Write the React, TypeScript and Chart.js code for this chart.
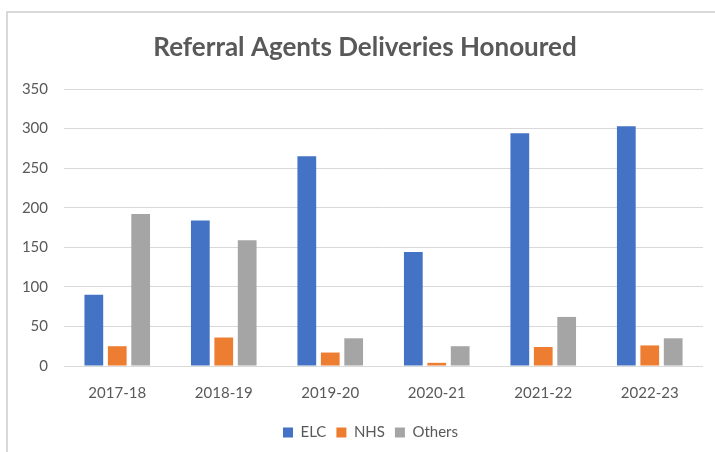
import React, { useEffect, useRef } from "react";
import { Chart, registerables } from "chart.js";

Chart.register(...registerables);

const categories = ["2017-18", "2018-19", "2019-20", "2020-21", "2021-22", "2022-23"];
const seriesNames = ["ELC", "NHS", "Others"];
const elcValues = [90, 184, 265, 144, 294, 303];
const nhsValues = [25, 36, 17, 4, 24, 26];
const othersValues = [192, 159, 35, 25, 62, 35];
const yMin = 0;
const yMax = 350;
const yStep = 50;
const chartTitle = "Referral Agents Deliveries Honoured";

const W = 715;
const H = 452;
const TEXT = "#595959";
const GRID = "#D9D9D9";
const FONT = "Lato, 'Open Sans', sans-serif";

const framePlugin = {
  id: "frame",
  beforeDraw(chart: any) {
    const ctx = chart.ctx;
    ctx.save();
    ctx.fillStyle = "#ffffff";
    ctx.fillRect(0, 0, chart.width, chart.height);
    ctx.strokeStyle = GRID;
    ctx.lineWidth = 2;
    ctx.beginPath();
    ctx.moveTo(7, chart.height);
    ctx.lineTo(7, 12);
    ctx.lineTo(chart.width, 12);
    ctx.stroke();
    ctx.restore();
  },
};

// Excel centres the title and legend on the whole chart frame, not on the padded box
const centreShiftPlugin = {
  id: "centreShift",
  afterLayout(chart: any) {
    const tb = chart.titleBlock;
    if (tb) {
      tb.left += 13.5;
      tb.right += 13.5;
    }
    const lg = chart.legend;
    if (lg) {
      lg.left += 19;
      lg.right += 19;
    }
  },
};

export default function App() {
  const ref = useRef<HTMLCanvasElement>(null);

  useEffect(() => {
    document.body.style.margin = "0";
    const canvas = ref.current;
    if (!canvas) return;
    const chart = new Chart(canvas, {
      type: "bar",
      data: {
        labels: categories,
        datasets: [
          { label: seriesNames[0], data: elcValues, backgroundColor: "#4472C4", borderWidth: 0 },
          { label: seriesNames[1], data: nhsValues, backgroundColor: "#ED7D31", borderWidth: 0 },
          { label: seriesNames[2], data: othersValues, backgroundColor: "#A5A5A5", borderWidth: 0 },
        ],
      },
      options: {
        responsive: false,
        animation: false,
        events: [],
        layout: { padding: { left: 0, right: 12, top: 0, bottom: 2 } },
        datasets: {
          bar: { categoryPercentage: 0.66, barPercentage: 0.8 },
        },
        scales: {
          x: {
            grid: { display: false, drawTicks: false },
            border: { display: false },
            ticks: {
              color: TEXT,
              font: { family: FONT, size: 15 },
              padding: 18,
              maxRotation: 0,
            },
            afterFit: (scale: any) => {
              scale.height = 49;
            },
          },
          y: {
            min: yMin,
            max: yMax,
            grid: { color: GRID, lineWidth: 1, drawTicks: false },
            border: { display: false },
            ticks: {
              stepSize: yStep,
              color: TEXT,
              font: { family: FONT, size: 15 },
              padding: 16,
            },
            afterFit: (scale: any) => {
              scale.width = 64;
            },
          },
        },
        plugins: {
          title: {
            display: true,
            text: chartTitle,
            color: TEXT,
            font: { family: FONT, size: 26, weight: "bold" },
            padding: { top: 32.4, bottom: 25.4 },
          },
          legend: {
            display: true,
            position: "bottom",
            labels: {
              boxWidth: 10,
              boxHeight: 10,
              padding: 10,
              color: TEXT,
              font: { family: FONT, size: 15 },
            },
          },
          tooltip: { enabled: false },
        },
      },
      plugins: [framePlugin, centreShiftPlugin],
    });
    return () => chart.destroy();
  }, []);

  return (
    <div style={{ width: W, height: H }}>
      <canvas ref={ref} width={W} height={H} style={{ display: "block" }} />
    </div>
  );
}
